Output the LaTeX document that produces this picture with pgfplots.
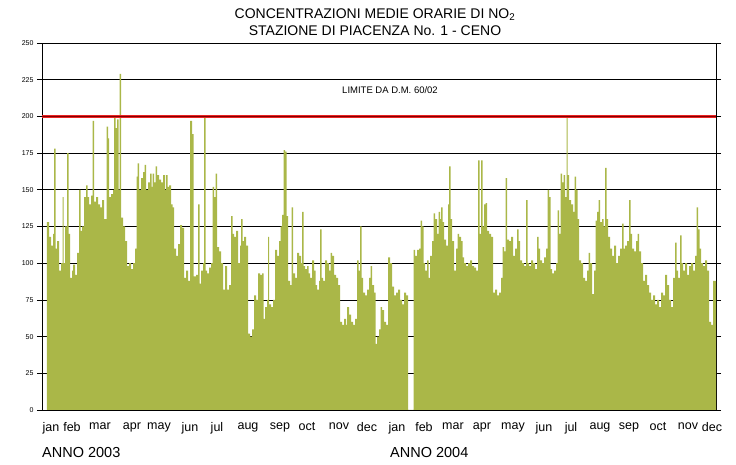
\documentclass[border=0pt]{standalone}
\usepackage{pgfplots}
\pgfplotsset{compat=1.18}
\usepackage{fontspec}
\setmainfont{Liberation Sans}
\definecolor{barc}{RGB}{170,183,72}
\definecolor{limred}{RGB}{235,35,35}
\definecolor{limdark}{RGB}{130,0,0}
\begin{document}
\begin{tikzpicture}[x=1pt,y=1pt]
\useasboundingbox (-42,-55) rectangle (694,410);
\begin{axis}[
  at={(0,0)}, anchor=south west,
  scale only axis, width=674pt, height=367pt,
  xmin=42, xmax=716, ymin=0, ymax=250,
  ytick={0,25,...,250},
  ymajorgrids, grid style={black, line width=0.6pt},
  xtick={51,72,100,132,159,190,217,248,280,307,339,367,397,424,453,482,513,544,571,600,629,658,688,712},
  xticklabels={jan,feb,mar,apr,may,jun,jul,aug,sep,oct,nov,dec,jan,feb,mar,apr,may,jun,jul,aug,sep,oct,nov,dec},
  xtick style={draw=none},
  xticklabel style={font=\fontsize{12.5}{12.5}\selectfont, yshift=-4pt},
  yticklabel style={font=\fontsize{7}{7}\selectfont},
  ytick style={black, line width=0.6pt},
  tick align=outside, major tick length=5pt,
  axis line style={black, line width=0.8pt},
  /pgf/number format/assume math mode=true,
]
\addplot[fill=barc, draw=none, const plot] coordinates {
(47,128)(49,118)(51,112)(53,120)(54,178)(55.5,110)(57,115)(59,95)(61,100)(62.5,145)(63.5,100)(65,125)(67,175)(68.5,120)(70,90)(72,95)(73,99)(75,92)(77,107)(79,150)(80.5,122)(82,125)(84,145)(86,153)(87.5,145)(89,140)(91,146)(92.5,197)(94,142)(96,145)(98,140)(100,138)(102,143)(104,130)(106.5,193)(108,185)(109,145)(111,147)(113,150)(114,200)(115.5,192)(117,198)(118.5,150)(119.5,229)(121,131)(123,125)(125,115)(127,98)(129,100)(131,96)(133,100)(135,110)(136.5,159)(137.5,168)(139,150)(141,158)(143,162)(144.5,167)(146,150)(148,155)(150,161)(151.5,152)(152.5,161)(154,155)(155.5,166)(157,160)(159,157)(161,155)(163,160)(165,150)(166,160)(167.5,152)(169,153)(171,140)(172.5,138)(174,110)(176,105)(178,113)(180,126)(182,124)(184,90)(186,95)(188,88)(190,197)(192,188)(193.5,91)(196,92)(198,140)(199.5,86)(201,95)(203,100)(204,199)(205.5,95)(207,93)(209,97)(211,100)(212.5,152)(214,145)(215.5,161)(217,111)(219,108)(221,100)(223,82)(225,98)(227,82)(229,85)(231,132)(232.5,120)(234,118)(236,122)(238,100)(240,112)(241,130)(242.5,115)(244,118)(246,112)(248,52)(250,50)(252,55)(254,78)(256,75)(258,93)(260,92)(262,93)(263.5,62)(265,70)(267,75)(268,118)(269,72)(271,70)(273,75)(275,109)(277,105)(279,115)(280.5,125)(282,133)(283.5,177)(285,176)(286.5,132)(288,88)(290,85)(291.5,138)(293,93)(295,90)(297,107)(299,105)(301,100)(302,135)(303.5,98)(305,96)(307,98)(308.5,93)(310,90)(312,102)(314,95)(315.5,85)(317,82)(319,88)(320,123)(321.5,90)(323,88)(325,102)(327,100)(329,95)(330.5,107)(332,105)(334,92)(336,90)(338,85)(340,60)(342,58)(344,62)(346,58)(347,70)(349,65)(351,60)(353,58)(355,62)(357,102)(358.5,95)(360,125)(361.5,90)(363,80)(365,78)(367,82)(369,90)(370.5,98)(372,85)(374,80)(375.5,45)(377,50)(379,55)(380.5,70)(382,68)(384,60)(386,58)(388,104)(390,100)(392,84)(394,78)(396,80)(398,82)(400,75)(402,72)(404,80)(406,78)(408,0)
(413.5,109)(415,105)(417,109)(419,110)(420.5,129)(422,125)(423.5,100)(425,95)(427,102)(428.5,90)(430,105)(432,115)(433.5,134)(435,130)(437,120)(438.5,135)(440,130)(441,138)(442.5,128)(444,116)(446,112)(448,140)(449,166)(450.5,130)(452,115)(454,95)(456,110)(457.5,120)(459,118)(461,115)(462.5,104)(464,100)(466,98)(468,100)(470,102)(472,98)(474,97)(476,95)(478,170)(479.5,120)(481,170)(482.5,125)(484,140)(485.5,141)(487,122)(489,120)(491,118)(493,80)(495,82)(497,78)(499,80)(501,90)(502.5,111)(504,108)(505.5,158)(507,116)(509,115)(511,118)(513,105)(515,110)(517,123)(518.5,115)(520,102)(522,100)(524,98)(526,143)(527.5,100)(529,98)(531,102)(533,100)(535,96)(537,118)(538.5,110)(540,102)(542,100)(544,104)(546,110)(547.5,150)(549,145)(550.5,96)(552,93)(554,95)(556,100)(557.5,136)(559,120)(560.5,161)(562,155)(563.5,160)(565,145)(566.5,199)(567.5,160)(569,143)(571,140)(573,135)(574.5,159)(576,150)(577.5,130)(579,102)(581,100)(583,90)(585,88)(587,95)(588.5,107)(590,100)(592,79)(594,95)(595.5,129)(597,135)(598.5,143)(600,128)(602,130)(603.5,125)(605,165)(606.5,130)(608,118)(610,110)(612,105)(614,112)(616,100)(618,105)(620,110)(622,127)(623.5,110)(625,112)(627,115)(629,143)(630.5,120)(632,110)(634,108)(636,115)(637.5,120)(639,108)(641,100)(643,88)(645,92)(647,85)(649,80)(651,75)(653,78)(655,72)(657,75)(659,70)(661,80)(663,78)(665,92)(667,85)(669,75)(671,70)(673,90)(675,114)(676.5,95)(678,90)(680,119)(681.5,100)(683,95)(685,100)(687,92)(689,98)(691,100)(693,95)(695,105)(696.5,138)(698,123)(699.5,110)(701,100)(703,98)(705,102)(707,95)(709,60)(711,58)(713,88)(716,88)
} \closedcycle;
\addplot[limred, line width=3.6pt] coordinates {(42,200) (716,200)};
\addplot[limdark, line width=0.5pt] coordinates {(42,200) (716,200)};
\end{axis}
\node[font=\fontsize{9.5}{9.5}\selectfont] at (348,320) {LIMITE DA D.M. 60/02};
\node[font=\fontsize{14}{14}\selectfont] at (333,395) {CONCENTRAZIONI MEDIE ORARIE DI NO\textsubscript{2}};
\node[font=\fontsize{14}{14}\selectfont] at (333,379) {STAZIONE DI PIACENZA No. 1 - CENO};
\node[font=\fontsize{14.5}{14.5}\selectfont, anchor=west, inner sep=0pt] at (0,-43) {ANNO 2003};
\node[font=\fontsize{14.5}{14.5}\selectfont, anchor=west, inner sep=0pt] at (348,-43) {ANNO 2004};
\end{tikzpicture}
\end{document}
